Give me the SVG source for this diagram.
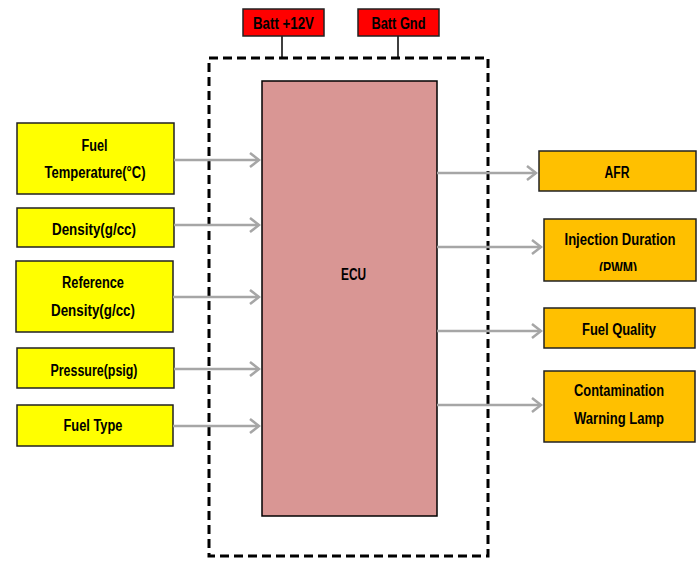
<svg xmlns="http://www.w3.org/2000/svg" width="699" height="563" viewBox="0 0 699 563">
<defs>
<style>
.t{font-family:"Liberation Sans",Arial,sans-serif;font-weight:bold;font-size:16px;fill:#000;text-anchor:middle;dominant-baseline:central}
.in{fill:#FFFF00;stroke:#222;stroke-width:1.5}
.out{fill:#FFC000;stroke:#222;stroke-width:1.5}
.pw{fill:#FF0000;stroke:#222;stroke-width:1.5}
.c{stroke:#A6A6A6;stroke-width:2.5;fill:none;marker-end:url(#ah)}
.w{stroke:#000;stroke-width:1.5;fill:none}
</style>
<marker id="ah" markerWidth="12" markerHeight="16" refX="10" refY="8" orient="auto" markerUnits="userSpaceOnUse">
<path d="M1,1 L10,8 L1,15" fill="none" stroke="#A6A6A6" stroke-width="2.5"/>
</marker>
<clipPath id="clipInj"><rect x="544" y="219" width="153" height="52"/></clipPath>
</defs>
<rect width="699" height="563" fill="#fff"/>
<g id="power-lines">
<path class="w" d="M282,36 V58 M398,36 V58"/>
</g>
<g id="boundary">
<rect x="209" y="58" width="279" height="498" fill="none" stroke="#000" stroke-width="3" stroke-dasharray="9,5"/>
</g>
<g id="batt12">
<rect class="pw" x="243" y="9" width="81" height="27"/>
<text class="t" x="283.5" y="23" textLength="61" lengthAdjust="spacingAndGlyphs">Batt +12V</text>
</g>
<g id="battgnd">
<rect class="pw" x="358" y="9" width="81" height="27"/>
<text class="t" x="398.5" y="23" textLength="54" lengthAdjust="spacingAndGlyphs">Batt Gnd</text>
</g>
<g id="ecu">
<rect x="262" y="81" width="175" height="435" fill="#D99694" stroke="#000" stroke-width="1.5"/>
<text class="t" x="353.5" y="274" textLength="25" lengthAdjust="spacingAndGlyphs">ECU</text>
</g>
<g id="fueltemp">
<rect class="in" x="17" y="123" width="157" height="71"/>
<text class="t" x="94.5" y="145" textLength="26" lengthAdjust="spacingAndGlyphs">Fuel</text>
<text class="t" x="95" y="172" textLength="101" lengthAdjust="spacingAndGlyphs">Temperature(°C)</text>
</g>
<g id="density">
<rect class="in" x="17" y="208" width="157" height="39"/>
<text class="t" x="94" y="229" textLength="84" lengthAdjust="spacingAndGlyphs">Density(g/cc)</text>
</g>
<g id="refdensity">
<rect class="in" x="16" y="261" width="157" height="71"/>
<text class="t" x="93" y="282" textLength="62" lengthAdjust="spacingAndGlyphs">Reference</text>
<text class="t" x="93" y="310" textLength="84" lengthAdjust="spacingAndGlyphs">Density(g/cc)</text>
</g>
<g id="pressure">
<rect class="in" x="17" y="348" width="157" height="40"/>
<text class="t" x="94" y="370" textLength="87" lengthAdjust="spacingAndGlyphs">Pressure(psig)</text>
</g>
<g id="fueltype">
<rect class="in" x="17" y="405" width="156" height="41"/>
<text class="t" x="93" y="425" textLength="59" lengthAdjust="spacingAndGlyphs">Fuel Type</text>
</g>
<g id="afr">
<rect class="out" x="539" y="151" width="157" height="40"/>
<text class="t" x="617" y="172" textLength="25" lengthAdjust="spacingAndGlyphs">AFR</text>
</g>
<g id="injection">
<rect class="out" x="544" y="219" width="152" height="62"/>
<text class="t" x="620" y="239" textLength="111" lengthAdjust="spacingAndGlyphs">Injection Duration</text>
<text class="t" x="618" y="268" textLength="38" lengthAdjust="spacingAndGlyphs" clip-path="url(#clipInj)">(PWM)</text>
</g>
<g id="fuelquality">
<rect class="out" x="544" y="308" width="151" height="40"/>
<text class="t" x="619" y="329" textLength="74" lengthAdjust="spacingAndGlyphs">Fuel Quality</text>
</g>
<g id="contamination">
<rect class="out" x="544" y="371" width="151" height="71"/>
<text class="t" x="619" y="390" textLength="90" lengthAdjust="spacingAndGlyphs">Contamination</text>
<text class="t" x="619" y="418" textLength="90" lengthAdjust="spacingAndGlyphs">Warning Lamp</text>
</g>
<g id="connectors">
<path class="c" d="M174,160 H259"/>
<path class="c" d="M174,225 H259"/>
<path class="c" d="M173,297 H259"/>
<path class="c" d="M174,369 H259"/>
<path class="c" d="M173,426 H259"/>
<path class="c" d="M437,173 H536"/>
<path class="c" d="M437,247 H541"/>
<path class="c" d="M437,331 H541"/>
<path class="c" d="M437,405 H541"/>
</g>
</svg>
